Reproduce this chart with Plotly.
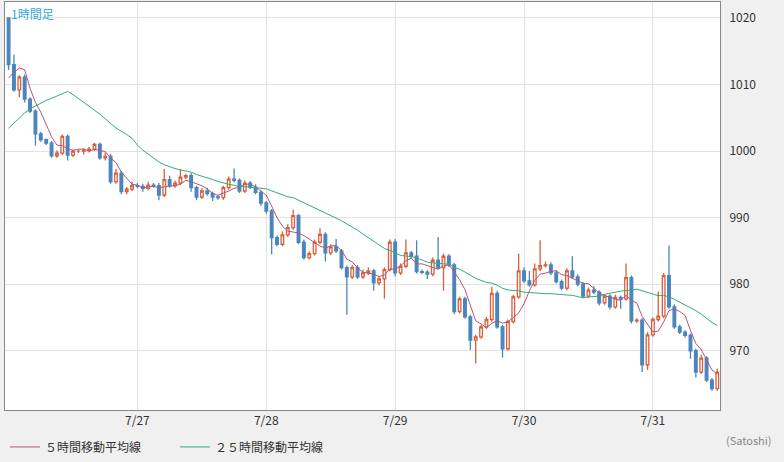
import plotly.graph_objects as go
import pandas as pd

# closes (hourly) from 7/26 00:00
closes = [1013, 1009.2, 1011.1, 1007.8, 1006, 1002.6, 1001.7, 1001.2, 999.3, 999.7, 1002.2, 999.4,
          1000, 1000, 1000.1, 1000.3, 1001, 999, 999.2, 995.4, 996.7, 993.9, 994.3, 994.8,
          994.7, 994.4, 994.9, 994.8, 993.4, 995.7, 994.8, 995.2, 996.1, 996.3, 994.5, 993.1,
          994.0, 993.6, 993.1, 993.0, 994.5, 995.8, 995.6, 994.0, 995.2, 994.6, 993.8, 992.2,
          991.0, 987.0, 986.0, 987.4, 988.5, 990.3, 986.3, 984.0, 984.6, 986.3, 987.5, 984.7,
          985.6, 985.0, 982.5, 981.1, 982.5, 981.1, 981.7, 982.0, 980.2, 980.8, 982.2, 986.3,
          981.7, 982.7, 984.7, 984.2, 981.9, 981.8, 981.5, 983.6, 982.5, 984.2, 982.9, 975.9,
          977.8, 975.1, 971.6, 972.1, 973.6, 974.7, 978.6, 973.6, 970.3, 974.4, 978.1, 982.0,
          980.5, 979.9, 982.3, 982.8, 982.9, 981.7, 980.4, 979.4, 982.0, 981.1, 980.0, 978.2,
          979.1, 978.8, 977.2, 978.2, 976.6, 978.0, 977.8, 981.0, 974.5, 974.6, 967.9, 972.4,
          974.7, 975.2, 981.3, 976.6, 973.6, 972.8, 972.3, 970.0, 966.8, 968.9, 965.6, 964.3,
          966.8]
first_open = 1020
upper_wick = [0.0, 1.5, 0.3, 0.4, 0.3, 0.3, 0.3, 0.2, 0.3, 0.4, 0.3, 0.3,
              0.2, 0.2, 0.3, 0.3, 0.2, 0.3, 0.6, 0.4, 0.6, 0.3, 0.3, 0.6,
              0.4, 0.4, 0.5, 0.3, 0.4, 1.6, 0.6, 0.4, 1.2, 0.3, 0.4, 0.3,
              0.4, 0.5, 0.3, 0.3, 0.3, 0.4, 1.6, 0.3, 0.4, 0.3, 0.4, 0.3,
              0.3, 0.3, 0.3, 0.5, 0.5, 0.9, 0.3, 0.4, 0.3, 0.4, 0.9, 0.3,
              0.4, 1.2, 0.3, 0.3, 0.4, 0.4, 0.5, 0.5, 0.3, 0.4, 0.3, 0.4,
              0.5, 0.4, 2.0, 0.3, 2.4, 0.3, 0.3, 0.4, 3.5, 0.4, 0.3, 0.3,
              0.3, 0.3, 0.3, 0.3, 0.3, 0.4, 1.0, 0.4, 0.3, 0.3, 0.3, 2.6,
              0.5, 1.5, 0.8, 3.8, 0.5, 0.4, 0.4, 0.3, 0.4, 2.2, 0.4, 0.3,
              0.4, 0.6, 0.3, 0.3, 0.3, 0.4, 0.3, 2.1, 0.3, 0.3, 0.3, 0.4,
              0.3, 3.7, 0.4, 4.5, 0.4, 0.3, 0.3, 0.3, 0.3, 0.5, 0.3, 0.3,
              0.5]
lower_wick = [0.8, 0.3, 1.1, 0.5, 0.3, 1.8, 0.3, 0.3, 0.3, 0.3, 0.3, 0.8,
              0.3, 0.3, 0.5, 0.3, 0.3, 0.3, 0.4, 0.3, 0.3, 0.4, 0.4, 0.3,
              0.3, 0.5, 0.3, 0.3, 0.8, 0.3, 0.3, 0.3, 0.3, 0.3, 0.6, 0.5,
              0.3, 0.3, 0.6, 0.3, 0.3, 0.3, 0.3, 0.3, 0.3, 0.3, 0.3, 0.4,
              0.4, 2.5, 0.3, 0.3, 0.3, 0.3, 0.3, 0.3, 0.3, 0.3, 0.3, 1.3,
              0.3, 0.3, 0.3, 5.7, 0.3, 0.3, 0.3, 0.3, 1.2, 0.4, 3.0, 0.3,
              0.5, 0.3, 0.3, 0.3, 0.3, 0.3, 0.7, 0.3, 0.3, 3.5, 0.3, 0.4,
              0.3, 0.3, 1.5, 3.5, 0.3, 0.3, 0.3, 0.3, 1.3, 0.3, 0.3, 0.3,
              0.3, 0.3, 0.3, 0.3, 0.3, 0.3, 0.3, 0.3, 0.3, 0.3, 0.3, 0.3,
              0.3, 0.3, 0.4, 0.3, 0.4, 0.3, 1.5, 0.3, 0.4, 0.3, 1.1, 0.8,
              0.3, 0.3, 0.3, 0.3, 0.3, 0.3, 0.3, 1.2, 0.8, 0.3, 0.3, 0.3,
              0.3]
# closes before the visible window (7/25), used only for the moving averages
prior_closes = [990, 990, 991, 991, 992, 990, 991, 992, 991, 992, 992,
                1012, 1014, 1015, 1016, 1015, 1014, 1015, 1014, 1014,
                1005, 1008, 1009, 1020]
y_ticks = [970, 980, 990, 1000, 1010, 1020]
x_tick_labels = ["7/27", "7/28", "7/29", "7/30", "7/31"]

n = len(closes)
times = pd.date_range("2024-07-26 00:00", periods=n, freq="h")
opens = [first_open] + closes[:-1]
highs = [max(o, c) + u for o, c, u in zip(opens, closes, upper_wick)]
lows = [min(o, c) - l for o, c, l in zip(opens, closes, lower_wick)]

allc = pd.Series(prior_closes + closes)
ma5 = allc.rolling(5).mean().iloc[len(prior_closes):].tolist()
ma25 = allc.rolling(25).mean().iloc[len(prior_closes):].tolist()

RED = "#d8603a"
BLUE = "#4a86bd"

fig = go.Figure()
fig.add_trace(go.Candlestick(
    x=times, open=opens, high=highs, low=lows, close=closes,
    increasing=dict(line=dict(color=RED, width=1.3), fillcolor="white"),
    decreasing=dict(line=dict(color=BLUE, width=1.3), fillcolor=BLUE),
    whiskerwidth=0, showlegend=False, hoverinfo="skip"))
fig.add_trace(go.Scatter(x=times, y=ma5, mode="lines", name="５時間移動平均線",
                         line=dict(color="#b2557f", width=1)))
fig.add_trace(go.Scatter(x=times, y=ma25, mode="lines", name="２５時間移動平均線",
                         line=dict(color="#2fae78", width=1)))

tickvals = pd.date_range("2024-07-27", periods=len(x_tick_labels), freq="D")
fig.update_layout(
    width=784, height=462,
    margin=dict(l=5, r=64, t=2, b=52, autoexpand=False),
    paper_bgcolor="#f0f0f0", plot_bgcolor="white",
    font=dict(family="Noto Sans CJK JP", size=12, color="#333"),
    xaxis=dict(type="date", range=[pd.Timestamp("2024-07-25 23:20"), pd.Timestamp("2024-07-31 12:30")],
               tickvals=tickvals, ticktext=x_tick_labels, showgrid=True, gridcolor="#e2e2e2",
               rangeslider=dict(visible=False), showline=True, linecolor="#888", mirror=True,
               ticks="", zeroline=False),
    yaxis=dict(side="right", range=[961.1, 1022.4], tickvals=y_ticks, showgrid=True,
               gridcolor="#e2e2e2", showline=True, linecolor="#888", mirror=True, ticks="",
               zeroline=False, ticklabelstandoff=6),
    legend=dict(orientation="h", x=0.0, xanchor="left", y=-0.055, yanchor="top",
                bgcolor="rgba(0,0,0,0)", font=dict(size=12, color="#333"), entrywidth=125),
    annotations=[
        dict(text="1時間足", x=0.005, y=0.997, xref="paper", yref="paper", xanchor="left",
             yanchor="top", showarrow=False, font=dict(color="#33aadd", size=12)),
        dict(text="(Satoshi)", x=1.075, y=-0.05, xref="paper", yref="paper", xanchor="right",
             yanchor="top", showarrow=False, font=dict(color="#888", size=11)),
    ],
)
fig.write_html("out.html", config={"displayModeBar": False},
               post_script="document.body.style.margin='0';document.body.style.overflow='hidden';")
